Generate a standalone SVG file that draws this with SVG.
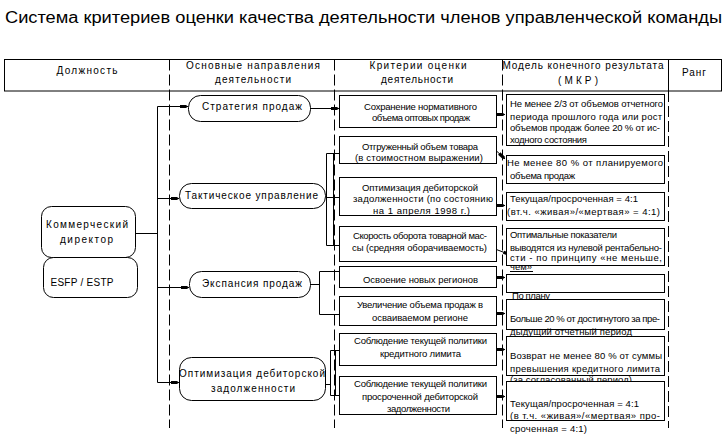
<svg xmlns="http://www.w3.org/2000/svg" width="728" height="442" viewBox="0 0 728 442">
<style>
.t{font-family:"Liberation Sans",Arial,sans-serif;font-size:10px;fill:#000}
.s{font-size:9.5px}
.c{text-anchor:middle}
.ttl{font-family:"Liberation Sans",Arial,sans-serif;font-size:16px;fill:#000}
.box{fill:#fff;stroke:#000;stroke-width:1}
.ln{fill:none;stroke:#000;stroke-width:1}
.dash{fill:none;stroke:#000;stroke-width:1;stroke-dasharray:11 4}
.ar{marker-end:url(#blk)}
</style>
<defs>
<marker id="blk" markerUnits="userSpaceOnUse" markerWidth="10" markerHeight="6" refX="8" refY="3" orient="auto">
<path d="M0,1.4 L6,1.4 L8,3 L6,4.6 L0,4.6 Z" fill="#000"/>
</marker>
</defs>
<rect width="728" height="442" fill="#fff"/>
<text class="ttl" x="5" y="23" textLength="717" lengthAdjust="spacingAndGlyphs">Система критериев оценки качества деятельности членов управленческой команды</text>
<g id="header">
<rect class="box" x="4.5" y="59.5" width="717" height="31.5"/>
<line class="ln" x1="668.5" y1="59.5" x2="668.5" y2="91"/>
<text class="t c" x="87" y="73.5" textLength="61">Должность</text>
<text class="t c" x="253" y="68.5" textLength="134">Основные направления</text>
<text class="t c" x="253" y="82.5" textLength="76">деятельности</text>
<text class="t c" x="418" y="68.5" textLength="97">Критерии оценки</text>
<text class="t c" x="417" y="82.5" textLength="72">деятельности</text>
<text class="t c" x="583" y="68.5" textLength="161">Модель конечного результата</text>
<text class="t c" x="578" y="83.5" textLength="40">(МКР)</text>
<text class="t c" x="694" y="75.5" textLength="24">Ранг</text>
</g>
<g id="guides">
<line class="dash" x1="169.5" y1="59.5" x2="169.5" y2="428"/>
<line class="dash" x1="334.5" y1="59.5" x2="334.5" y2="428"/>
<line class="dash" x1="502.5" y1="59.5" x2="502.5" y2="428"/>
<line class="dash" x1="668.5" y1="91" x2="668.5" y2="428"/>
</g>
<g id="connectors">
<path class="ln" d="M135,233.5 H157.5 M157.5,106.5 V382.5"/>
<path class="ln ar" d="M157.5,106.5 H188"/>
<path class="ln ar" d="M157.5,198.5 H179"/>
<path class="ln ar" d="M157.5,287.5 H189"/>
<path class="ln ar" d="M157.5,382.5 H179"/>
<path class="ln ar" d="M310,108.5 H339"/>
<path class="ln" d="M324,196.5 H326.5 M326.5,153.5 V245.5 M333.5,153.5 V245.5"/>
<path class="ln ar" d="M326.5,153.5 H350"/>
<path class="ln ar" d="M326.5,197.5 H350"/>
<path class="ln ar" d="M326.5,245.5 H350"/>
<path class="ln" d="M310,284.5 H319.5 M319.5,271.5 V314.5"/>
<path class="ln ar" d="M319.5,271.5 H352"/>
<path class="ln ar" d="M319.5,314.5 H352"/>
<path class="ln" d="M318,384.5 H330.5 M330.5,350.5 V395.5 M335.5,350.5 V395.5"/>
<path class="ln ar" d="M330.5,350.5 H362"/>
<path class="ln ar" d="M330.5,395.5 H362"/>
<path class="ln ar" d="M482,114.5 H505"/>
<path class="ln ar" d="M487,142 L505,159"/>
<path class="ln ar" d="M485,205.5 H505"/>
<path class="ln ar" d="M487,246 L511,255"/>
<path class="ln ar" d="M487,277.5 H505"/>
<path class="ln ar" d="M486,313.5 H505"/>
<path class="ln ar" d="M486,349.5 H505"/>
<path class="ln ar" d="M486,396.5 H505"/>
</g>
<g id="node-commercial">
<rect class="box" x="41.5" y="206.5" width="94" height="51" rx="10"/>
<text class="t c" x="87" y="227.5" textLength="82">Коммерческий</text>
<text class="t c" x="86.5" y="242.5" textLength="53">директор</text>
</g>
<g id="node-esfp">
<rect class="box" x="43.5" y="257.5" width="94" height="40" rx="10"/>
<text class="t c" x="82" y="285.5" textLength="63">ESFP / ESTP</text>
</g>
<g id="node-strategy">
<rect class="box" x="188.5" y="95.5" width="122" height="26" rx="12"/>
<text class="t c" x="252" y="109.5" textLength="100">Стратегия продаж</text>
</g>
<g id="node-tactical">
<rect class="box" x="179.5" y="183.5" width="146" height="25" rx="12"/>
<text class="t c" x="251.5" y="198.5" textLength="133">Тактическое управление</text>
</g>
<g id="node-expansion">
<rect class="box" x="189.5" y="271.5" width="121" height="26" rx="12"/>
<text class="t c" x="252" y="286.5" textLength="100">Экспансия продаж</text>
</g>
<g id="node-receivables">
<rect class="box" x="179.5" y="357.5" width="146" height="43" rx="12"/>
<text class="t c" x="252" y="376.5" textLength="146">Оптимизация дебиторской</text>
<text class="t c" x="253" y="391.5" textLength="84">задолженности</text>
</g>
<g id="crit-1">
<rect class="box" x="339.5" y="95.5" width="157" height="32"/>
<text class="t s c" x="420.5" y="109.5" textLength="113">Сохранение нормативного</text>
<text class="t s c" x="421" y="120.5" textLength="98">объема оптовых продаж</text>
</g>
<g id="crit-2">
<rect class="box" x="339.5" y="136.5" width="157" height="27"/>
<text class="t s c" x="420" y="149.5" textLength="116">Отгруженный объем товара</text>
<text class="t s c" x="419" y="160.5" textLength="128">(в стоимостном выражении)</text>
</g>
<g id="crit-3">
<rect class="box" x="339.5" y="177.5" width="157" height="38"/>
<text class="t s c" x="420" y="190.5" textLength="116">Оптимизация дебиторской</text>
<text class="t s c" x="423" y="201.5" textLength="140">задолженности (по состоянию</text>
<text class="t s c" x="421.5" y="213.5" textLength="97">на 1 апреля 1998 г.)</text>
</g>
<g id="crit-4">
<rect class="box" x="339.5" y="226.5" width="157" height="35"/>
<text class="t s c" x="420" y="238.5" textLength="134">Скорость оборота товарной мас-</text>
<text class="t s c" x="419.5" y="250.5" textLength="135">сы (средняя оборачиваемость)</text>
</g>
<g id="crit-5">
<rect class="box" x="339.5" y="266.5" width="157" height="21"/>
<text class="t s c" x="420.5" y="282.5" textLength="115">Освоение новых регионов</text>
</g>
<g id="crit-6">
<rect class="box" x="339.5" y="296.5" width="157" height="29"/>
<text class="t s c" x="420" y="307.5" textLength="126">Увеличение объема продаж в</text>
<text class="t s c" x="420" y="320.5" textLength="96">осваиваемом регионе</text>
</g>
<g id="crit-7">
<rect class="box" x="339.5" y="333.5" width="157" height="32"/>
<text class="t s c" x="420.5" y="343.5" textLength="133">Соблюдение текущей политики</text>
<text class="t s c" x="420.5" y="356.5" textLength="81">кредитного лимита</text>
</g>
<g id="crit-8">
<rect class="box" x="339.5" y="376.5" width="157" height="38"/>
<text class="t s c" x="420.5" y="386.5" textLength="133">Соблюдение текущей политики</text>
<text class="t s c" x="420" y="399.5" textLength="116">просроченной дебиторской</text>
<text class="t s c" x="418.5" y="411.5" textLength="63">задолженности</text>
</g>
<g id="model-1">
<rect class="box" x="506.5" y="94.5" width="158" height="51"/>
<text class="t s" x="510" y="106.5" textLength="153">Не менее 2/3 от объемов отчетного</text>
<text class="t s" x="510" y="119.5" textLength="152">периода прошлого года или рост</text>
<text class="t s" x="510" y="130.5" textLength="150">объемов продаж более 20 % от ис-</text>
<text class="t s" x="510" y="142.5" textLength="77">ходного состояния</text>
</g>
<g id="model-2">
<rect class="box" x="506.5" y="155.5" width="158" height="28"/>
<text class="t s" x="507" y="165.5" textLength="156">Не менее 80 % от планируемого</text>
<text class="t s" x="510" y="178.5" textLength="65">объема продаж</text>
</g>
<g id="model-3">
<rect class="box" x="506.5" y="192.5" width="158" height="28"/>
<text class="t s" x="510" y="201.5" textLength="128">Текущая/просроченная = 4:1</text>
<text class="t s" x="507" y="214.5" textLength="153">(вт.ч. «живая»/«мертвая» = 4:1)</text>
</g>
<g id="model-4">
<rect class="box" x="506.5" y="228.5" width="158" height="37"/>
<text class="t s" x="510" y="237.5" textLength="107">Оптимальные показатели</text>
<text class="t s" x="510" y="250.5" textLength="152">выводятся из нулевой рентабельно-</text>
<text class="t s" x="510" y="260.5" textLength="152">сти - по принципу «не меньше,</text>
<text class="t s" x="510" y="270" textLength="22">чем»</text>
<line class="ln" x1="510" y1="271.5" x2="533" y2="271.5"/>
</g>
<g id="model-5">
<rect class="box" x="506.5" y="274.5" width="158" height="18"/>
<text class="t s" x="512" y="299" textLength="38">По плану</text>
</g>
<g id="model-6">
<rect class="box" x="506.5" y="299.5" width="158" height="30"/>
<text class="t s" x="510" y="321.5" textLength="150">Больше 20 % от достигнутого за пре-</text>
<text class="t s" x="510" y="334.5" textLength="122">дыдущий отчетный период</text>
</g>
<g id="model-7">
<rect class="box" x="506.5" y="336.5" width="158" height="39"/>
<text class="t s" x="510" y="358.5" textLength="152">Возврат не менее 80 % от суммы</text>
<text class="t s" x="510" y="371.5" textLength="150">превышения кредитного лимита</text>
<text class="t s" x="510" y="382.5" textLength="122">(за согласованный период)</text>
</g>
<g id="model-8">
<rect class="box" x="506.5" y="381.5" width="158" height="39"/>
<text class="t s" x="510" y="406.5" textLength="129">Текущая/просроченная = 4:1</text>
<text class="t s" x="510" y="418.5" textLength="150">(в т.ч. «живая»/«мертвая» про-</text>
<text class="t s" x="510" y="431.5" textLength="77">сроченная = 4:1)</text>
</g>
</svg>
